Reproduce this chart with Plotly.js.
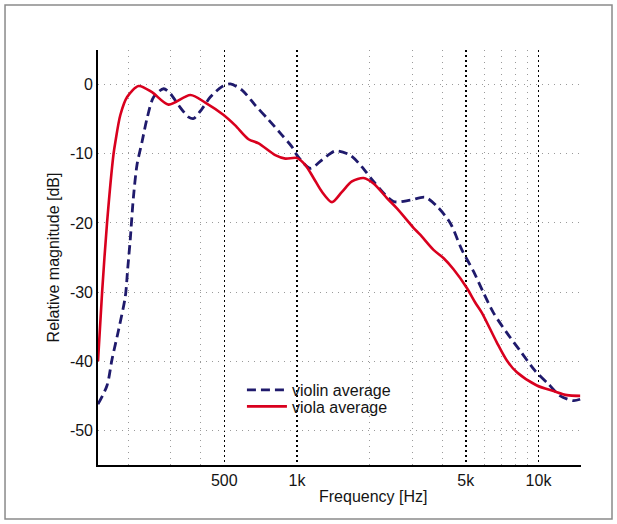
<!DOCTYPE html>
<html><head><meta charset="utf-8">
<script src="https://cdn.plot.ly/plotly-3.0.1.min.js"></script>
<style>html,body{margin:0;padding:0;background:#fff}#chart{width:617px;height:524px}</style>
</head><body><div id="chart"></div>
<script>
// Violin average (dashed navy)
const violinFreq = [150,163.5,171.5,182.7,194.7,199,204,210,217.6,228.2,239.4,255,280.4,299,323.5,355.9,373.3,404.5,437.7,489.3,529.7,592.2,672.1,762.9,866.9,953.5,1000,1135,1269,1440,1662,1858,2075,2511,2944,3396,3798,4310,4818,5383,5920,6512,7400,8402,9690,11000,12300,13960,14880];
const violinDb = [-46.2,-43.5,-39.7,-35.4,-30.6,-26.7,-22.4,-16.5,-11.6,-8.3,-4.9,-1.8,-0.6,-1.3,-3.0,-4.7,-4.9,-3.5,-1.8,-0.3,0.1,-0.8,-3.0,-5.1,-7.3,-9.0,-10.2,-12.1,-10.9,-9.6,-10.2,-11.9,-14.0,-16.9,-16.7,-16.3,-17.6,-20.0,-23.9,-27.0,-30.1,-33.0,-35.9,-38.5,-41.4,-43.3,-45.0,-45.7,-45.5];
// Viola average (solid red)
const violaFreq = [150,156,163.5,174,177,185.6,198,221,251,294,362,417,497,555,630,694,813,895,1000,1082,1171,1269,1396,1536,1689,1887,2075,2357,2594,3037,3237,3676,4050,4448,5053,5470,5832,6726,7400,8139,9849,11540,13108,14880];
const violaDb = [-40,-30,-20,-10,-8.3,-4.4,-1.8,-0.2,-1.1,-2.9,-1.5,-2.6,-4.4,-5.9,-7.9,-8.5,-10.2,-10.7,-10.6,-11.6,-13.5,-15.5,-17.0,-15.5,-14.0,-13.5,-14.3,-16.4,-17.9,-20.7,-21.7,-23.9,-25.1,-26.7,-29.4,-31.5,-33.0,-37.3,-39.9,-41.6,-43.5,-44.3,-44.9,-45.0];

const seriesNames = ['violin average','viola average'];
const xTickVals = [500,1000,5000,10000];
const xTickText = ['500','1k','5k','10k'];
const xMinorVals = [200,300,400,2000,3000,4000,6000,7000,8000,9000];
const yTickVals = [-50,-40,-30,-20,-10,0];
const yTickText = ['-50','-40','-30','-20','-10','0'];
const xTitle = 'Frequency [Hz]';
const yTitle = 'Relative magnitude [dB]';

const FONT = 'Liberation Sans, Arial, Helvetica, sans-serif';
const TXT = '#141414';

const traces = [
  {x: violinFreq, y: violinDb, type: 'scatter', mode: 'lines', name: seriesNames[0],
   line: {color: '#1f1a6c', width: 2.8, dash: '9px,5px', shape: 'spline', smoothing: 0.8},
   legend: 'legend'},
  {x: violaFreq, y: violaDb, type: 'scatter', mode: 'lines', name: seriesNames[1],
   line: {color: '#d9001e', width: 2.6, shape: 'spline', smoothing: 0.8},
   legend: 'legend2'}
];

const legendCommon = {
  bgcolor: 'rgba(0,0,0,0)', borderwidth: 0, itemwidth: 40,
  font: {family: FONT, size: 16, color: TXT}, xanchor: 'left', yanchor: 'middle',
  tracegroupgap: 0
};

const layout = {
  width: 617, height: 524,
  margin: {l: 98, r: 36, t: 50, b: 59},
  paper_bgcolor: '#fff', plot_bgcolor: '#fff',
  font: {family: FONT, size: 16, color: TXT},
  showlegend: true,
  legend: Object.assign({}, legendCommon, {x: 0.298, y: 0.181}),
  legend2: Object.assign({}, legendCommon, {x: 0.298, y: 0.141}),
  xaxis: {
    type: 'log', range: [Math.log10(150), Math.log10(15000)],
    tickmode: 'array', tickvals: xTickVals, ticktext: xTickText,
    ticks: '', showline: true, linecolor: '#000', linewidth: 1.8,
    showgrid: true, gridcolor: '#000', gridwidth: 1.5, griddash: '1.5px,3.5px',
    minor: {tickmode: 'array', tickvals: xMinorVals, ticks: '', showgrid: true,
            gridcolor: '#9a9a9a', gridwidth: 1, griddash: '1px,5px'},
    zeroline: false, mirror: false,
    tickfont: {family: FONT, size: 16, color: TXT}
  },
  yaxis: {
    range: [-55, 5], tickmode: 'array', tickvals: yTickVals, ticktext: yTickText,
    ticks: '', showline: true, linecolor: '#000', linewidth: 1.8,
    showgrid: true, gridcolor: '#9a9a9a', gridwidth: 1, griddash: '1px,5px',
    zeroline: false, mirror: false,
    tickfont: {family: FONT, size: 16, color: TXT},
    title: {text: yTitle, font: {family: FONT, size: 16, color: TXT}, standoff: 6}
  },
  annotations: [
    {text: xTitle, xref: 'paper', yref: 'paper', x: 0.569, y: -0.077,
     xanchor: 'center', yanchor: 'middle', showarrow: false,
     font: {family: FONT, size: 16, color: TXT}}
  ],
  shapes: [
    {type: 'rect', xref: 'paper', yref: 'paper', x0: -0.1925, x1: 1.0642, y0: -0.1301, y1: 1.1084,
     line: {color: '#8a8a8a', width: 1.5}, fillcolor: 'rgba(0,0,0,0)', layer: 'below'}
  ]
};

Plotly.newPlot('chart', traces, layout, {displayModeBar: false, staticPlot: true});
</script>
</body></html>
